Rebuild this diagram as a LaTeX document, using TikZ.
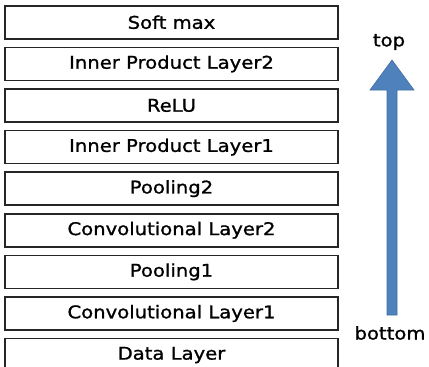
\documentclass[tikz,border=0pt]{standalone}
\usepackage{fontspec}
\newfontfamily\lblfont[FakeStretch=1.12,FakeBold=1.1]{DejaVu Sans}
\definecolor{arrowblue}{HTML}{4F81BD}
\definecolor{arrowedge}{HTML}{3F6E9F}
\tikzset{
  layerbox/.style={draw=black!85, line width=1.5pt, fill=white,
    minimum width=333pt, minimum height=33pt, anchor=north,
    inner sep=0pt, font=\lblfont\fontsize{17.5}{20}\selectfont},
  sidelabel/.style={font=\lblfont\fontsize{17.5}{20}\selectfont, inner sep=0pt}
}
\begin{document}
\begin{tikzpicture}[x=1pt,y=-1pt]
  \useasboundingbox (0,0) rectangle (429,367);
  % layer stack, top to bottom
  \node[layerbox] (l9) at (171.5,5) {Soft max};
  \node[layerbox] (l8) at (171.5,46.6) {Inner Product Layer2};
  \node[layerbox] (l7) at (171.5,88.2) {ReLU};
  \node[layerbox] (l6) at (171.5,129.8) {Inner Product Layer1};
  \node[layerbox] (l5) at (171.5,171.4) {Pooling2};
  \node[layerbox] (l4) at (171.5,213) {Convolutional Layer2};
  \node[layerbox] (l3) at (171.5,254.6) {Pooling1};
  \node[layerbox] (l2) at (171.5,296.2) {Convolutional Layer1};
  \node[layerbox] (l1) at (171.5,337.8) {Data Layer};
  % direction arrow
  \coordinate (tail) at (392,315);
  \coordinate (tip) at (392,60);
  \fill[arrowblue, draw=arrowedge, line width=0.6pt]
    ([xshift=-5pt]tail) -- ([xshift=-5pt,yshift=-30pt]tip)
    -- ([xshift=-22pt,yshift=-30pt]tip) -- (tip)
    -- ([xshift=22pt,yshift=-30pt]tip) -- ([xshift=5pt,yshift=-30pt]tip)
    -- ([xshift=5pt]tail) -- cycle;
  \node[sidelabel] (toplbl) at (389,42) {top};
  \node[sidelabel] (botlbl) at (390,333) {bottom};
\end{tikzpicture}
\end{document}
